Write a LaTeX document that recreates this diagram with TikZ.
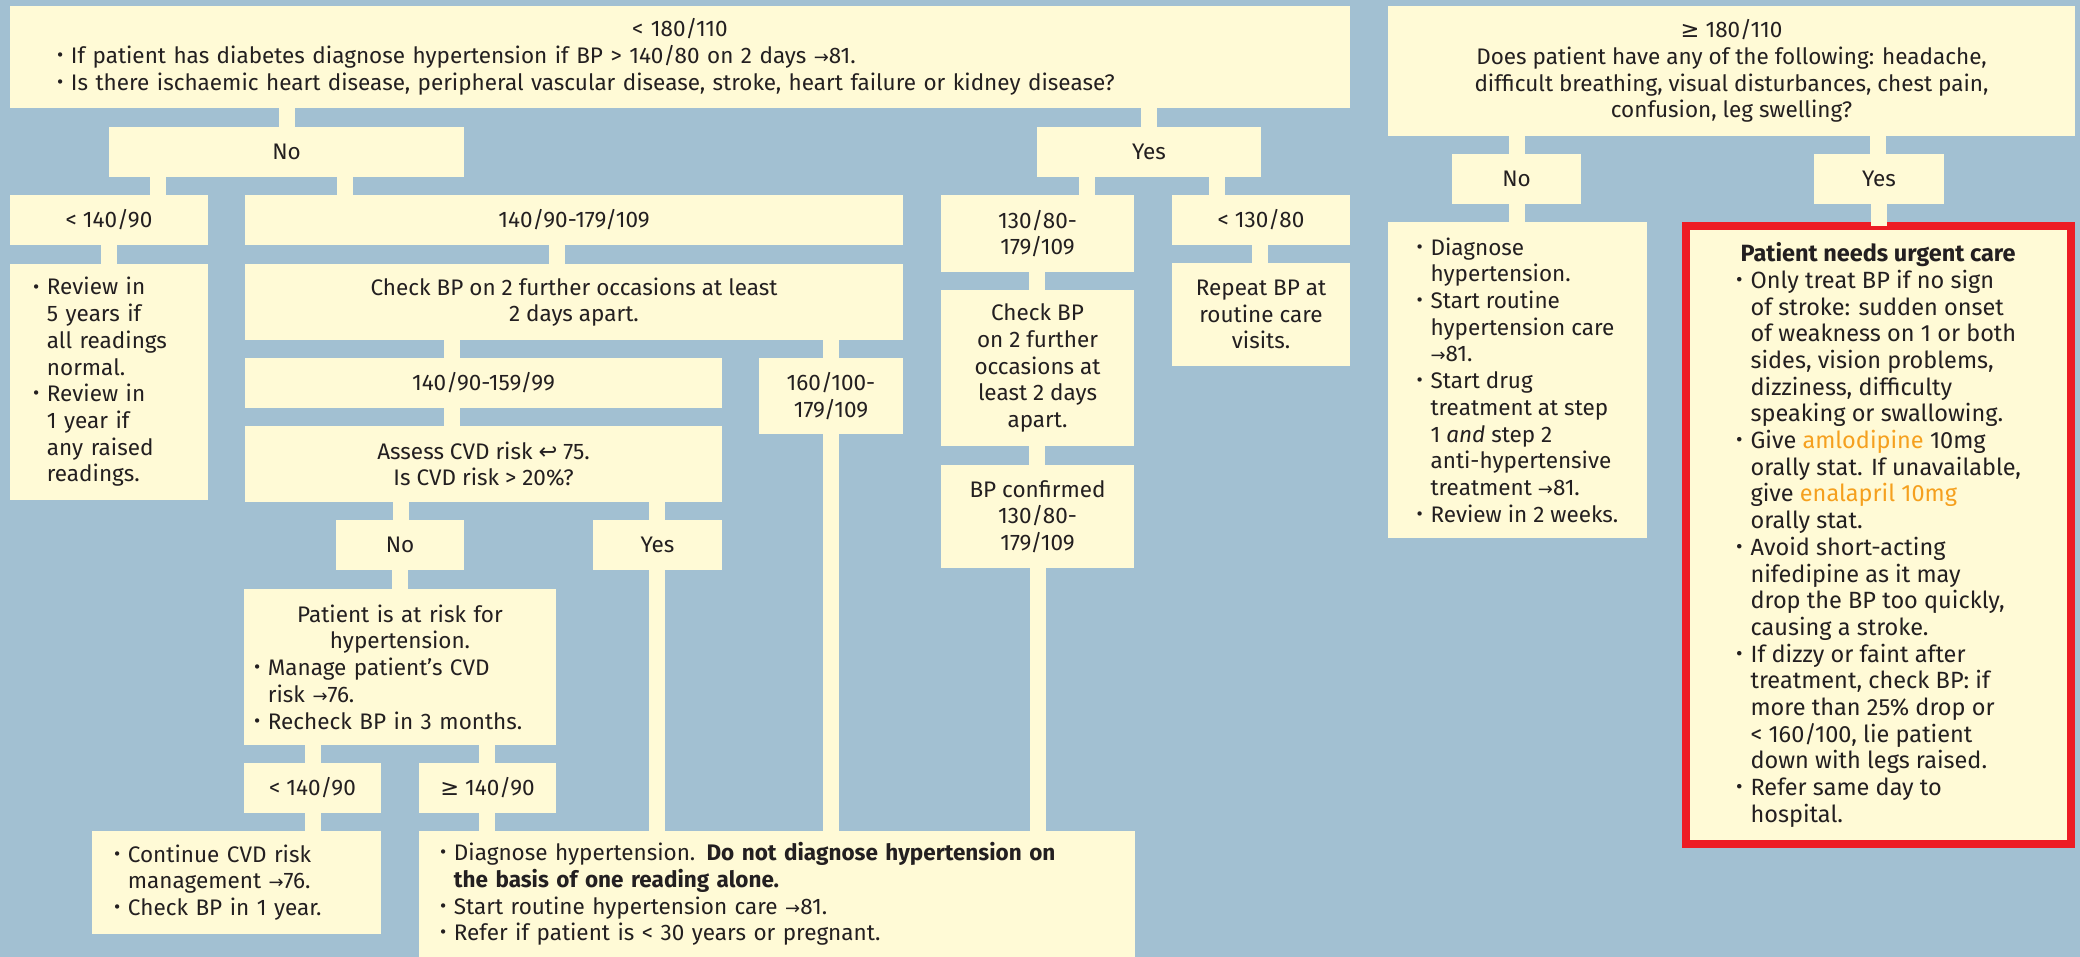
\documentclass[tikz,border=0pt]{standalone}
\usepackage{fontspec}
\setmainfont{Fira Sans}
\newfontfamily\symfont{DejaVu Sans}
\usepackage{graphicx}
\usepackage{tikz}
\definecolor{sky}{RGB}{162,192,210}
\definecolor{cream}{RGB}{255,250,214}
\definecolor{ink}{RGB}{35,31,32}
\definecolor{alert}{RGB}{237,28,36}
\definecolor{drug}{RGB}{245,160,30}
\newcommand{\bu}{\makebox[0.62em][l]{\raisebox{0.08em}{\scalebox{0.85}{\textbullet}}}}
\newcommand{\ind}{\hspace*{0.62em}}
\newcommand{\ra}{{\symfont\scalebox{0.8}{→}}}
\newcommand{\atleast}{{\symfont ≥}}
\newcommand{\pgref}{{\symfont ↩}}
\tikzset{
  bx/.style={fill=cream,text=ink,inner sep=0pt,outer sep=0pt,align=center,font=\fontsize{22.5}{26.7}\selectfont},
  sz/.style 2 args={minimum width=#1pt,minimum height=#2pt},
  urgent/.style={bx,align=left,draw=alert,line width=8pt,font=\fontsize{23.5}{26.7}\selectfont},
  bar/.style={draw=cream,line width=16pt}
}

\begin{document}
\begin{tikzpicture}[x=1pt,y=-1pt]
\useasboundingbox (0,0) rectangle (2080,957);
\fill[sky] (0,0) rectangle (2080,957);
% left: below 180/110
\node[bx,sz={1340}{102},text width=1246pt,align=left] (top) at (680,57) {\noindent{\centering < 180/110\par}\noindent\bu If patient has diabetes diagnose hypertension if BP > 140/80 on 2 days \ra81.\\\bu Is there ischaemic heart disease, peripheral vascular disease, stroke, heart failure or kidney disease?};
\node[bx,sz={355}{50}] (no) at (286.5,152) {No};
\node[bx,sz={224}{50}] (yes) at (1149,152) {Yes};
\node[bx,sz={198}{50}] (lt140) at (109,220) {< 140/90};
\node[bx,sz={658}{50}] (mid) at (574,220) {140/90-179/109};
\node[bx,sz={193}{77}] (r130) at (1037.5,233.5) {130/80-\\179/109};
\node[bx,sz={178}{50}] (lt130) at (1261,220) {< 130/80};
\node[bx,sz={198}{236},text width=152pt,align=left] (review) at (109,382) {\noindent\bu Review in\\\ind 5 years if\\\ind all readings\\\ind normal.\\\bu Review in\\\ind 1 year if\\\ind any raised\\\ind readings.};
\node[bx,sz={658}{76}] (check) at (574,302) {Check BP on 2 further occasions at least\\2 days apart.};
\node[bx,sz={477}{50}] (c159) at (483.5,383) {140/90-159/99};
\node[bx,sz={144}{76}] (c160) at (831,396) {160/100-\\179/109};
\node[bx,sz={477}{76}] (assess) at (483.5,464) {Assess CVD risk \pgref\ 75.\\Is CVD risk > 20\%?};
\node[bx,sz={128}{50}] (cno) at (400,545) {No};
\node[bx,sz={129}{50}] (cyes) at (657.5,545) {Yes};
\node[bx,sz={312}{156},text width=292pt,align=left] (risk) at (400,667) {\noindent{\centering Patient is at risk for\\hypertension.\par}\noindent\bu Manage patient's CVD\\\ind risk \ra76.\\\bu Recheck BP in 3 months.};
\node[bx,sz={137}{50}] (rlt) at (312.5,788) {< 140/90};
\node[bx,sz={137}{50}] (rge) at (487.5,788) {\atleast\ 140/90};
\node[bx,sz={289}{103},text width=245pt,align=left] (cont) at (236.5,882.5) {\noindent\bu Continue CVD risk\\\ind management \ra76.\\\bu Check BP in 1 year.};
\node[bx,sz={716}{126},text width=674pt,align=left] (diag) at (777,894) {\noindent\bu Diagnose hypertension. \textbf{Do not diagnose hypertension on\\\ind the basis of one reading alone.}\\\bu Start routine hypertension care \ra81.\\\bu Refer if patient is < 30 years or pregnant.};
\node[bx,sz={193}{156}] (check2) at (1037.5,368) {Check BP\\on 2 further\\occasions at\\least 2 days\\apart.};
\node[bx,sz={193}{103}] (conf) at (1037.5,516.5) {BP confirmed\\130/80-\\179/109};
\node[bx,sz={178}{103}] (rep) at (1261,314.5) {Repeat BP at\\routine care\\visits.};
% right: 180/110 and above
\node[bx,sz={687}{130}] (rtop) at (1731.5,71) {\atleast\ 180/110\\Does patient have any of the following: headache,\\difficult breathing, visual disturbances, chest pain,\\confusion, leg swelling?};
\node[bx,sz={129}{50}] (rno) at (1516.5,179) {No};
\node[bx,sz={130}{50}] (ryes) at (1879,179) {Yes};
\node[bx,sz={259}{316},align=left] (rcare) at (1517.5,380) {\bu Diagnose\\\ind hypertension.\\\bu Start routine\\\ind hypertension care\\\ind\ra81.\\\bu Start drug\\\ind treatment at step\\\ind 1 \textit{and} step 2\\\ind anti-hypertensive\\\ind treatment \ra81.\\\bu Review in 2 weeks.};
\node[urgent,sz={385}{618}] (urg) at (1878.5,535) {\hspace*{0.2em}\textbf{Patient needs urgent care}\\\bu Only treat BP if no sign\\\ind of stroke: sudden onset\\\ind of weakness on 1 or both\\\ind sides, vision problems,\\\ind dizziness, difficulty\\\ind speaking or swallowing.\\\bu Give \textcolor{drug}{amlodipine} 10mg\\\ind orally stat. If unavailable,\\\ind give \textcolor{drug}{enalapril 10mg}\\\ind orally stat.\\\bu Avoid short-acting\\\ind nifedipine as it may\\\ind drop the BP too quickly,\\\ind causing a stroke.\\\bu If dizzy or faint after\\\ind treatment, check BP: if\\\ind more than 25\% drop or\\\ind < 160/100, lie patient\\\ind down with legs raised.\\\bu Refer same day to\\\ind hospital.};
% connectors
\draw[bar] (top.south -| 287,0) -- (no.north -| 287,0);
\draw[bar] (top.south -| 1149,0) -- (yes.north -| 1149,0);
\draw[bar] (no.south -| 158,0) -- (lt140.north -| 158,0);
\draw[bar] (no.south -| 345,0) -- (mid.north -| 345,0);
\draw[bar] (yes.south -| 1087,0) -- (r130.north -| 1087,0);
\draw[bar] (yes.south -| 1217,0) -- (lt130.north -| 1217,0);
\draw[bar] (lt140.south -| 109,0) -- (review.north -| 109,0);
\draw[bar] (mid.south -| 557,0) -- (check.north -| 557,0);
\draw[bar] (check.south -| 452,0) -- (c159.north -| 452,0);
\draw[bar] (check.south -| 831,0) -- (c160.north -| 831,0);
\draw[bar] (c159.south -| 452,0) -- (assess.north -| 452,0);
\draw[bar] (assess.south -| 401,0) -- (cno.north -| 401,0);
\draw[bar] (assess.south -| 657,0) -- (cyes.north -| 657,0);
\draw[bar] (cno.south -| 400,0) -- (risk.north -| 400,0);
\draw[bar] (risk.south -| 313,0) -- (rlt.north -| 313,0);
\draw[bar] (risk.south -| 487,0) -- (rge.north -| 487,0);
\draw[bar] (rlt.south -| 313,0) -- (cont.north -| 313,0);
\draw[bar] (rge.south -| 487,0) -- (diag.north -| 487,0);
\draw[bar] (cyes.south -| 657,0) -- (diag.north -| 657,0);
\draw[bar] (c160.south -| 831,0) -- (diag.north -| 831,0);
\draw[bar] (r130.south -| 1037,0) -- (check2.north -| 1037,0);
\draw[bar] (check2.south -| 1037,0) -- (conf.north -| 1037,0);
\draw[bar] (conf.south -| 1038,0) -- (diag.north -| 1038,0);
\draw[bar] (lt130.south -| 1260,0) -- (rep.north -| 1260,0);
\draw[bar] (rtop.south -| 1517,0) -- (rno.north -| 1517,0);
\draw[bar] (rtop.south -| 1878,0) -- (ryes.north -| 1878,0);
\draw[bar] (rno.south -| 1517,0) -- (rcare.north -| 1517,0);
\draw[bar] (ryes.south -| 1879,0) -- (urg.north -| 1879,0);
\end{tikzpicture}
\end{document}
